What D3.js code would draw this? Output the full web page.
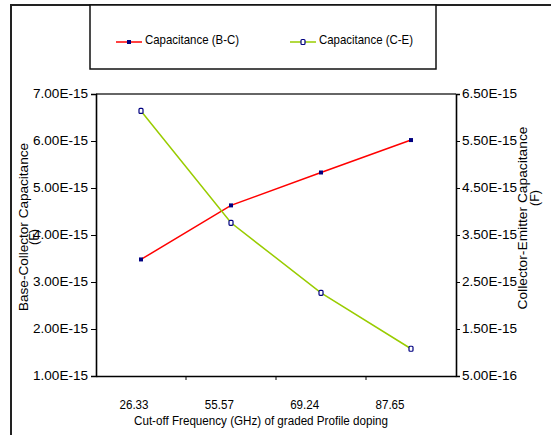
<!DOCTYPE html>
<html>
<head>
<meta charset="utf-8">
<script src="https://cdn.jsdelivr.net/npm/d3@7"></script>
<style>
  body { margin: 0; background: #fff; }
  svg text { font-family: "Liberation Sans", Arial, sans-serif; fill: #000; }
</style>
</head>
<body>
<script>
// chart values
let freqs = ["26.33", "55.57", "69.24", "87.65"];
let capBC = [3.48e-15, 4.63e-15, 5.33e-15, 6.02e-15];
let capCE = [6.14e-15, 3.76e-15, 2.27e-15, 1.08e-15];
let leftTicks = [1e-15, 2e-15, 3e-15, 4e-15, 5e-15, 6e-15, 7e-15];
let rightTicks = [5e-16, 1.5e-15, 2.5e-15, 3.5e-15, 4.5e-15, 5.5e-15, 6.5e-15];

let width = 551;
let height = 435;
let svg = d3.select("body").append("svg")
            .attr("width", width)
            .attr("height", height);

let plot = {left: 96, right: 456, top: 94, bottom: 376};

let x = d3.scaleBand().domain(freqs).range([plot.left, plot.right]);
// excel draws the category labels a bit off the band centres
let xLabel = d3.scalePoint().domain(freqs).range([134, 390]);
let yL = d3.scaleLinear().domain([1e-15, 7e-15]).range([plot.bottom, plot.top]);
let yR = d3.scaleLinear().domain([5e-16, 6.5e-15]).range([plot.bottom, plot.top]);

function sci(d) {
  let e = Math.floor(Math.log10(d) + 1e-9);
  let m = d / Math.pow(10, e);
  return m.toFixed(2) + "E" + (e < 0 ? "-" : "+") + Math.abs(e);
}

// outer frame
svg.append("rect")
   .attr("x", 11).attr("y", 5)
   .attr("width", 600).attr("height", 500)
   .attr("fill", "none")
   .attr("stroke", "#222")
   .attr("stroke-width", 2);

// plot frame top line
svg.append("line")
   .attr("x1", plot.left).attr("x2", plot.right)
   .attr("y1", plot.top).attr("y2", plot.top)
   .attr("stroke", "#333").attr("stroke-width", 1.5);

// axes
let leftAxis = svg.append("g")
   .attr("transform", "translate(" + plot.left + ",0)")
   .call(d3.axisLeft(yL).tickValues(leftTicks).tickFormat(sci).tickSize(5).tickPadding(3));

let rightAxis = svg.append("g")
   .attr("transform", "translate(" + plot.right + ",0)")
   .call(d3.axisRight(yR).tickValues(rightTicks).tickFormat(sci).tickSize(4).tickPadding(2));

let bottomAxis = svg.append("g")
   .attr("transform", "translate(0," + plot.bottom + ")")
   .call(d3.axisBottom(x).tickSize(0).tickFormat(""));

// category separators on x axis
svg.append("g")
   .selectAll("line")
   .data(freqs.slice(1))
   .enter().append("line")
   .attr("x1", d => x(d)).attr("x2", d => x(d))
   .attr("y1", plot.bottom).attr("y2", plot.bottom + 4)
   .attr("stroke", "#000").attr("stroke-width", 1);

[leftAxis, rightAxis, bottomAxis].forEach(function(g) {
  g.select(".domain").attr("stroke", "#000").attr("stroke-width", 1.6);
  g.selectAll(".tick line").attr("stroke", "#000");
  g.selectAll(".tick text")
   .attr("font-size", 12)
   .attr("textLength", 55)
   .attr("lengthAdjust", "spacingAndGlyphs")
   .attr("font-family", "Liberation Sans, Arial, sans-serif");
});

svg.append("g")
   .selectAll("text")
   .data(freqs)
   .enter().append("text")
   .attr("x", d => xLabel(d))
   .attr("y", 409)
   .attr("text-anchor", "middle")
   .attr("font-size", 12)
   .attr("textLength", 29)
   .attr("lengthAdjust", "spacingAndGlyphs")
   .text(d => d);

// axis titles
svg.append("text")
   .attr("x", 261).attr("y", 425)
   .attr("text-anchor", "middle")
   .attr("font-size", 12)
   .attr("textLength", 254)
   .attr("lengthAdjust", "spacingAndGlyphs")
   .text("Cut-off Frequency (GHz) of graded Profile doping");

svg.append("text")
   .attr("transform", "translate(28,227) rotate(-90)")
   .attr("text-anchor", "middle")
   .attr("font-size", 12.5)
   .attr("textLength", 168)
   .attr("lengthAdjust", "spacingAndGlyphs")
   .text("Base-Collector Capacitance");
svg.append("text")
   .attr("transform", "translate(38,237) rotate(-90)")
   .attr("text-anchor", "middle")
   .attr("font-size", 12.5)
   .text("(F)");

svg.append("text")
   .attr("transform", "translate(527,218) rotate(-90)")
   .attr("text-anchor", "middle")
   .attr("font-size", 12.5)
   .attr("textLength", 183)
   .attr("lengthAdjust", "spacingAndGlyphs")
   .text("Collector-Emitter Capacitance");
svg.append("text")
   .attr("transform", "translate(539,198) rotate(-90)")
   .attr("text-anchor", "middle")
   .attr("font-size", 12.5)
   .text("(F)");

// series lines
let lineBC = d3.line()
   .x((d, i) => x(freqs[i]) + x.bandwidth() / 2)
   .y(d => yL(d));
let lineCE = d3.line()
   .x((d, i) => x(freqs[i]) + x.bandwidth() / 2)
   .y(d => yR(d));

svg.append("path")
   .datum(capBC)
   .attr("d", lineBC)
   .attr("fill", "none")
   .attr("stroke", "#ff0000")
   .attr("stroke-width", 1.5);

svg.append("path")
   .datum(capCE)
   .attr("d", lineCE)
   .attr("fill", "none")
   .attr("stroke", "#99cc00")
   .attr("stroke-width", 1.5);

// markers
svg.append("g")
   .selectAll("rect")
   .data(capBC)
   .enter().append("rect")
   .attr("x", (d, i) => x(freqs[i]) + x.bandwidth() / 2 - 2)
   .attr("y", d => yL(d) - 2)
   .attr("width", 4).attr("height", 4)
   .attr("fill", "#000080");

svg.append("g")
   .selectAll("rect")
   .data(capCE)
   .enter().append("rect")
   .attr("x", (d, i) => x(freqs[i]) + x.bandwidth() / 2 - 2)
   .attr("y", d => yR(d) - 2.5)
   .attr("width", 4).attr("height", 5)
   .attr("rx", 1)
   .attr("fill", "#fff")
   .attr("stroke", "#000080")
   .attr("stroke-width", 1.2);

// legend
let legend = svg.append("g");
legend.append("rect")
   .attr("x", 90).attr("y", 5)
   .attr("width", 346).attr("height", 64)
   .attr("fill", "#fff")
   .attr("stroke", "#111")
   .attr("stroke-width", 1.5);

let legendItems = [
  {name: "Capacitance (B-C)", color: "#ff0000", x: 116, hollow: false},
  {name: "Capacitance (C-E)", color: "#99cc00", x: 290, hollow: true}
];

legendItems.forEach(function(it) {
  legend.append("line")
     .attr("x1", it.x).attr("x2", it.x + 26)
     .attr("y1", 42).attr("y2", 42)
     .attr("stroke", it.color).attr("stroke-width", 1.5);
  legend.append("rect")
     .attr("x", it.x + 11).attr("y", it.hollow ? 39.5 : 40)
     .attr("width", 4).attr("height", it.hollow ? 5 : 4)
     .attr("rx", it.hollow ? 1 : 0)
     .attr("fill", it.hollow ? "#fff" : "#000080")
     .attr("stroke", it.hollow ? "#000080" : "none")
     .attr("stroke-width", 1.2);
  legend.append("text")
     .attr("x", it.x + 29).attr("y", 44)
     .attr("font-size", 13.5)
     .attr("textLength", 94)
     .attr("lengthAdjust", "spacingAndGlyphs")
     .text(it.name);
});
</script>
</body>
</html>
